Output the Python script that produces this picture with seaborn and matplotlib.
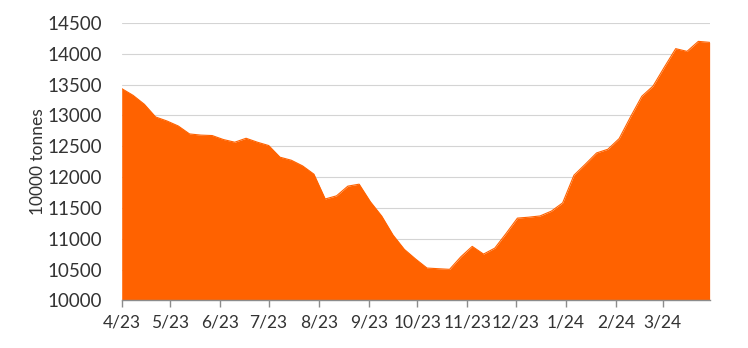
import numpy as np
import pandas as pd
import matplotlib
matplotlib.use("Agg")
import matplotlib.pyplot as plt
import matplotlib.dates as mdates
from matplotlib.ticker import FuncFormatter, MultipleLocator
import seaborn as sns

# Weekly stocks, 10000 tonnes
start_date = "2023-04-01"
values = [13434, 13325, 13180, 12974, 12909, 12828, 12699, 12680, 12673, 12608,
          12565, 12629, 12565, 12511, 12322, 12273, 12181, 12047, 11645, 11696,
          11853, 11885, 11599, 11367, 11060, 10828, 10671, 10526, 10515, 10505,
          10709, 10877, 10752, 10849, 11087, 11335, 11350, 11370, 11448, 11582,
          12030, 12208, 12391, 12451, 12624, 12974, 13309, 13476, 13783, 14081,
          14037, 14199, 14183]
y_label = "10000 tonnes"
y_min, y_max, y_step = 10000, 14500, 500

dates = pd.date_range(start_date, periods=len(values), freq="7D")
df = pd.DataFrame({"date": dates, "value": values})

sns.set_theme(style="white")
plt.rcParams["font.family"] = ["Lato", "DejaVu Sans"]

orange = "#FF6200"
text_col = "#333333"

fig = plt.figure(figsize=(7.48, 3.48), dpi=100)
ax = fig.add_axes([0.1627, 0.1365, 0.786, 0.798])

sns.lineplot(data=df, x="date", y="value", ax=ax, color=orange, linewidth=0.8, zorder=3)
ax.fill_between(df["date"], df["value"], y_min, color=orange, linewidth=0, zorder=3)

ax.set_ylim(y_min, y_max)
ax.set_xlim(dates[0], dates[-1])
ax.yaxis.set_major_locator(MultipleLocator(y_step))
ax.yaxis.set_major_formatter(FuncFormatter(lambda v, p: f"{int(v)}"))

ax.xaxis.set_major_locator(mdates.MonthLocator())
ax.xaxis.set_major_formatter(FuncFormatter(
    lambda v, p: f"{mdates.num2date(v).month}/{mdates.num2date(v).strftime('%y')}"))

ax.grid(axis="y", color="#d4d4d4", linewidth=0.8, zorder=0)
ax.grid(axis="x", visible=False)
ax.set_axisbelow(True)

for s in ["top", "right", "left"]:
    ax.spines[s].set_visible(False)
ax.spines["bottom"].set_color("#8c8c8c")
ax.spines["bottom"].set_linewidth(1.0)
ax.spines["bottom"].set_zorder(5)

ax.tick_params(axis="x", which="major", length=5, width=1.0, color="#8c8c8c",
               direction="out", bottom=True, labelsize=12.5, labelcolor=text_col, pad=5)
ax.tick_params(axis="y", length=0, labelsize=13.5, labelcolor=text_col, pad=14)

ax.set_xlabel("")
ax.set_ylabel(y_label, fontsize=12.5, color=text_col, labelpad=1)

fig.savefig("out.png", dpi=100)
